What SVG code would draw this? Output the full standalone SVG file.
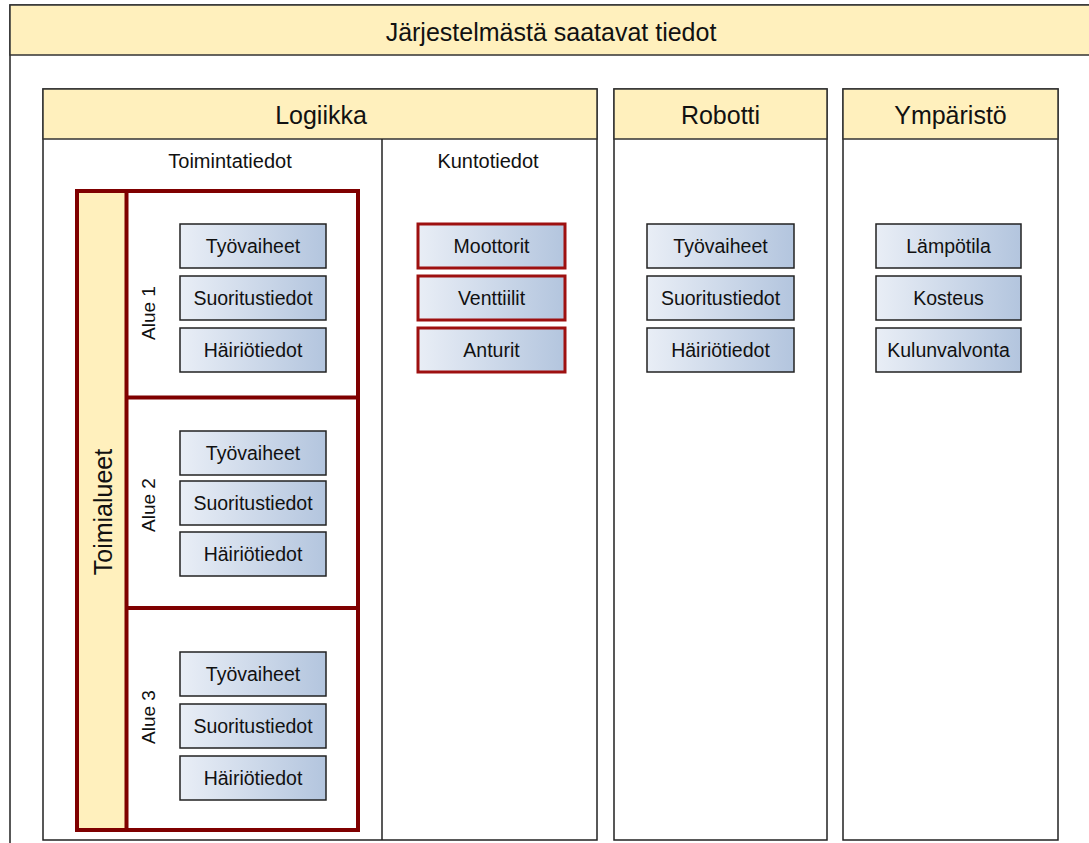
<svg xmlns="http://www.w3.org/2000/svg" width="1089" height="843" viewBox="0 0 1089 843">
<defs>
<linearGradient id="blue" x1="0" y1="0" x2="1" y2="0">
<stop offset="0" stop-color="#E9EEF6"/>
<stop offset="1" stop-color="#B3C5DE"/>
</linearGradient>
<style>
text{font-family:"Liberation Sans",Arial,sans-serif;fill:#111;text-anchor:middle}
.hdr{fill:#FFF0BD;stroke:#333;stroke-width:1.5}
.pane{fill:#fff;stroke:#222;stroke-width:1.5}
.box{fill:url(#blue);stroke:#222;stroke-width:1.5}
.rbox{fill:url(#blue);stroke:#9E1010;stroke-width:3}
.red{fill:none;stroke:#7F0000;stroke-width:4}
.t16{font-size:19.5px}
.al{font-size:19px}
.t20{font-size:25px}
.t21{font-size:25px}
.t14{font-size:20px}
</style>
</defs>
<rect width="1089" height="843" fill="#fff"/>
<g id="outer">
<rect class="pane" x="10" y="5" width="1082" height="850"/>
<rect class="hdr" x="10" y="5" width="1082" height="50"/>
<text class="t20" x="551" y="41">Järjestelmästä saatavat tiedot</text>
</g>
<g id="logiikka">
<rect class="pane" x="43" y="89" width="554" height="751"/>
<rect class="hdr" x="43" y="89" width="554" height="50"/>
<text class="t21" x="321" y="124">Logiikka</text>
<line x1="382" y1="139" x2="382" y2="840" stroke="#222" stroke-width="1.5"/>
<text class="t14" x="230" y="168">Toimintatiedot</text>
<text class="t14" x="488" y="168">Kuntotiedot</text>
</g>
<g id="toimialueet">
<rect x="77" y="191" width="49.5" height="639" fill="#FFF0BD"/>
<rect class="red" x="77" y="191" width="281" height="639"/>
<line class="red" x1="126.5" y1="191" x2="126.5" y2="830"/>
<line class="red" x1="126.5" y1="397.5" x2="358" y2="397.5"/>
<line class="red" x1="126.5" y1="608" x2="358" y2="608"/>
<text class="t20" x="103" y="512" dominant-baseline="central" transform="rotate(-90 103 512)">Toimialueet</text>
</g>
<g id="alue1">
<text class="al" x="148" y="313" dominant-baseline="central" transform="rotate(-90 148 313)">Alue 1</text>
<rect class="box" x="180" y="224" width="146" height="44"/><text class="t16" x="253" y="253">Työvaiheet</text>
<rect class="box" x="180" y="276" width="146" height="44"/><text class="t16" x="253" y="305">Suoritustiedot</text>
<rect class="box" x="180" y="328" width="146" height="44"/><text class="t16" x="253" y="357">Häiriötiedot</text>
</g>
<g id="alue2">
<text class="al" x="148" y="505" dominant-baseline="central" transform="rotate(-90 148 505)">Alue 2</text>
<rect class="box" x="180" y="431" width="146" height="44"/><text class="t16" x="253" y="460">Työvaiheet</text>
<rect class="box" x="180" y="481" width="146" height="44"/><text class="t16" x="253" y="510">Suoritustiedot</text>
<rect class="box" x="180" y="532" width="146" height="44"/><text class="t16" x="253" y="561">Häiriötiedot</text>
</g>
<g id="alue3">
<text class="al" x="148" y="717" dominant-baseline="central" transform="rotate(-90 148 717)">Alue 3</text>
<rect class="box" x="180" y="652" width="146" height="44"/><text class="t16" x="253" y="681">Työvaiheet</text>
<rect class="box" x="180" y="704" width="146" height="44"/><text class="t16" x="253" y="733">Suoritustiedot</text>
<rect class="box" x="180" y="756" width="146" height="44"/><text class="t16" x="253" y="785">Häiriötiedot</text>
</g>
<g id="kuntotiedot">
<rect class="rbox" x="418" y="224" width="147" height="44"/><text class="t16" x="491.5" y="253">Moottorit</text>
<rect class="rbox" x="418" y="276" width="147" height="44"/><text class="t16" x="491.5" y="305">Venttiilit</text>
<rect class="rbox" x="418" y="328" width="147" height="44"/><text class="t16" x="491.5" y="357">Anturit</text>
</g>
<g id="robotti">
<rect class="pane" x="614" y="89" width="213" height="751"/>
<rect class="hdr" x="614" y="89" width="213" height="50"/>
<text class="t21" x="720.5" y="124">Robotti</text>
<rect class="box" x="647" y="224" width="147" height="44"/><text class="t16" x="720.5" y="253">Työvaiheet</text>
<rect class="box" x="647" y="276" width="147" height="44"/><text class="t16" x="720.5" y="305">Suoritustiedot</text>
<rect class="box" x="647" y="328" width="147" height="44"/><text class="t16" x="720.5" y="357">Häiriötiedot</text>
</g>
<g id="ymparisto">
<rect class="pane" x="843" y="89" width="215" height="751"/>
<rect class="hdr" x="843" y="89" width="215" height="50"/>
<text class="t21" x="950.5" y="124">Ympäristö</text>
<rect class="box" x="876" y="224" width="145" height="44"/><text class="t16" x="948.5" y="253">Lämpötila</text>
<rect class="box" x="876" y="276" width="145" height="44"/><text class="t16" x="948.5" y="305">Kosteus</text>
<rect class="box" x="876" y="328" width="145" height="44"/><text class="t16" x="948.5" y="357">Kulunvalvonta</text>
</g>
<g id="connectors"/>
</svg>
